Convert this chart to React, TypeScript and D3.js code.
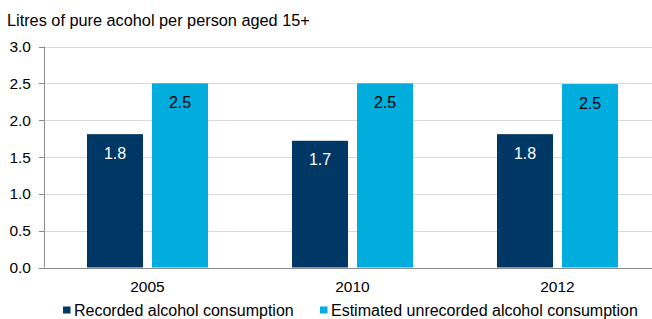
import { useEffect, useRef } from "react"
import * as d3 from "d3"

const years = ["2005", "2010", "2012"]
const recorded = [1.81, 1.72, 1.81]
const unrecorded = [2.5, 2.5, 2.49]
const yTicks = [0, 0.5, 1, 1.5, 2, 2.5, 3]
const seriesNames = ["Recorded alcohol consumption", "Estimated unrecorded alcohol consumption"]
const seriesColors = ["#003764", "#00ADDC"]

const W = 652
const H = 319

const App = () => {
  const ref = useRef<SVGSVGElement>(null)

  useEffect(() => {
    if (!ref.current) return
    const svg = d3.select(ref.current)
    svg.selectAll("*").remove()
    const font = "'Liberation Sans', Arial, sans-serif"

    const x = d3.scaleBand().domain(years).range([45, 660])
    const y = d3.scaleLinear().domain([0, 3]).range([267.5, 46.5])
    const barW = 56
    const gap = 9

    svg
      .append("text")
      .attr("x", 7)
      .attr("y", 26)
      .attr("font-family", font)
      .attr("font-size", 16.3)
      .attr("fill", "#000")
      .text("Litres of pure acohol per person aged 15+")

    // gridlines
    svg
      .append("g")
      .selectAll("line")
      .data(yTicks.filter((d) => d > 0))
      .join("line")
      .attr("x1", 44)
      .attr("x2", W)
      .attr("y1", (d) => Math.round(y(d)) + 0.5)
      .attr("y2", (d) => Math.round(y(d)) + 0.5)
      .attr("stroke", "#d9d9d9")

    // y axis
    const yAxis = svg.append("g")
    yAxis
      .append("line")
      .attr("x1", 44.5)
      .attr("x2", 44.5)
      .attr("y1", y(3))
      .attr("y2", y(0))
      .attr("stroke", "#8c8c8c")
    yAxis
      .selectAll("line.tick")
      .data(yTicks)
      .join("line")
      .attr("class", "tick")
      .attr("x1", 39)
      .attr("x2", 44.5)
      .attr("y1", (d) => Math.round(y(d)) + 0.5)
      .attr("y2", (d) => Math.round(y(d)) + 0.5)
      .attr("stroke", "#8c8c8c")
    yAxis
      .selectAll("text")
      .data(yTicks)
      .join("text")
      .attr("x", 31)
      .attr("y", (d) => y(d) + 5.5)
      .attr("text-anchor", "end")
      .attr("font-family", font)
      .attr("font-size", 15.5)
      .text((d) => d.toFixed(1))

    // bars
    const groups = svg
      .append("g")
      .selectAll("g")
      .data(years)
      .join("g")
      .attr("transform", (d) => `translate(${x(d)! + x.bandwidth() / 2},0)`)

    const vals = [recorded, unrecorded]
    vals.forEach((series, si) => {
      const xo = si === 0 ? -gap / 2 - barW : gap / 2
      groups
        .append("rect")
        .attr("x", xo)
        .attr("width", barW)
        .attr("y", (_, i) => y(series[i]))
        .attr("height", (_, i) => y(0) - y(series[i]))
        .attr("fill", seriesColors[si])
      groups
        .append("text")
        .attr("x", xo + barW / 2)
        .attr("y", (_, i) => y(series[i]) + 24.5)
        .attr("text-anchor", "middle")
        .attr("font-family", font)
        .attr("font-size", 16)
        .attr("fill", si === 0 ? "#fff" : "#000")
        .text((_, i) => series[i].toFixed(1))
    })

    // x axis
    svg
      .append("line")
      .attr("x1", 44)
      .attr("x2", W)
      .attr("y1", Math.round(y(0)) + 0.5)
      .attr("y2", Math.round(y(0)) + 0.5)
      .attr("stroke", "#8c8c8c")
    svg
      .append("g")
      .selectAll("text")
      .data(years)
      .join("text")
      .attr("x", (d) => x(d)! + x.bandwidth() / 2)
      .attr("y", 292)
      .attr("text-anchor", "middle")
      .attr("font-family", font)
      .attr("font-size", 15.5)
      .text((d) => d)

    // legend
    const legendX = [63, 320]
    const legend = svg
      .append("g")
      .selectAll("g")
      .data(seriesNames)
      .join("g")
      .attr("transform", (_, i) => `translate(${legendX[i]},0)`)
    legend
      .append("rect")
      .attr("x", 0)
      .attr("y", 306.5)
      .attr("width", 7.5)
      .attr("height", 7)
      .attr("fill", (_, i) => seriesColors[i])
    legend
      .append("text")
      .attr("x", 11)
      .attr("y", 316)
      .attr("font-family", font)
      .attr("font-size", 16)
      .text((d) => d)
  }, [])

  return <svg ref={ref} width={W} height={H} style={{ position: "absolute", left: 0, top: 0 }} />
}

export default App
